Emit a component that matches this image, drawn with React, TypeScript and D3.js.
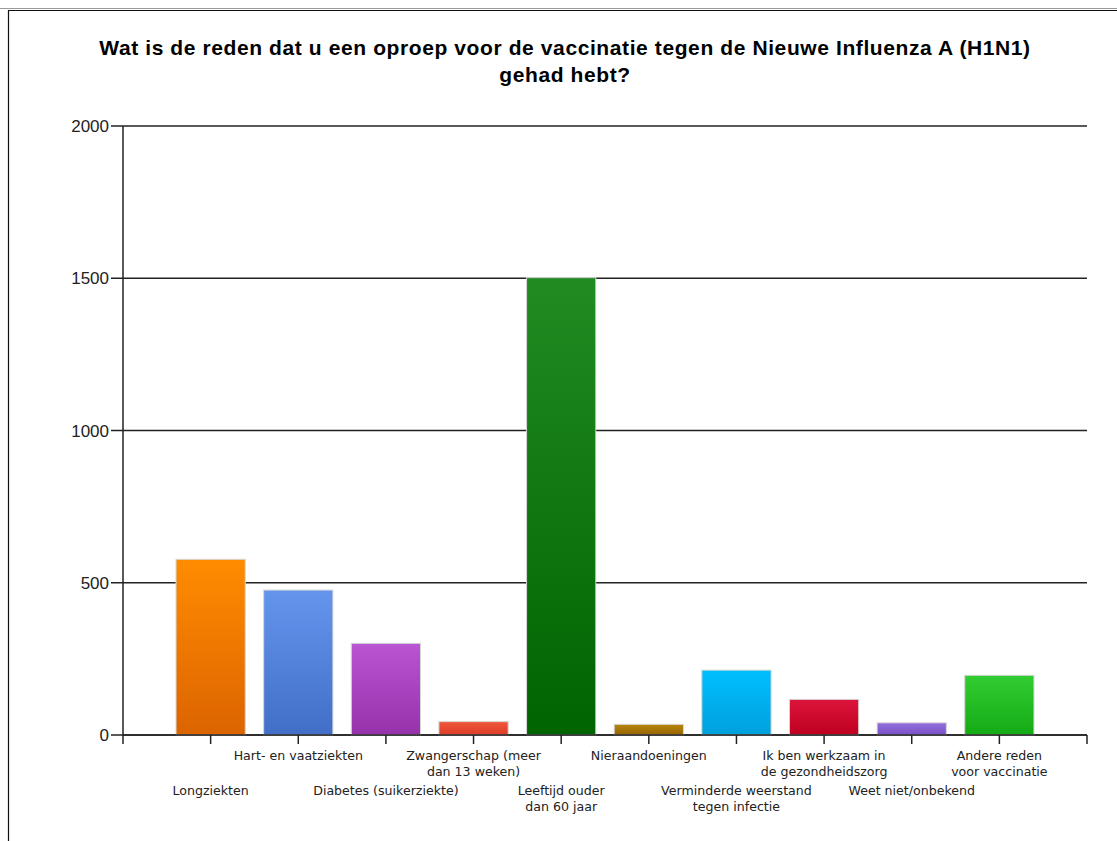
import React from "react";
import * as d3 from "d3";

const title = [
  "Wat is de reden dat u een oproep voor de vaccinatie tegen de Nieuwe Influenza A (H1N1)",
  "gehad hebt?",
];

const categories = [
  ["Longziekten"],
  ["Hart- en vaatziekten"],
  ["Diabetes (suikerziekte)"],
  ["Zwangerschap (meer", "dan 13 weken)"],
  ["Leeftijd ouder", "dan 60 jaar"],
  ["Nieraandoeningen"],
  ["Verminderde weerstand", "tegen infectie"],
  ["Ik ben werkzaam in", "de gezondheidszorg"],
  ["Weet niet/onbekend"],
  ["Andere reden", "voor vaccinatie"],
];

const values = [577, 476, 301, 44, 1502, 35, 213, 117, 40, 196];

const topColors = ["#ff8c00", "#6495ed", "#ba55d3", "#f0583c", "#228b22", "#b8860b", "#00bfff", "#dc143c", "#9370db", "#32cd32"];
const bottomColors = ["#dc6400", "#416fc8", "#9632aa", "#dc3c28", "#006400", "#966400", "#00a0dc", "#be0020", "#7850c8", "#14aa14"];

const yTicks = [0, 500, 1000, 1500, 2000];

export default function App() {
  const W = 1117;
  const H = 841;
  const left = 123;
  const right = 1087;
  const top = 126;
  const bottom = 735;

  const keys = categories.map((c) => c.join(" "));
  const x = d3.scalePoint<string>().domain(keys).range([left, right]).padding(1);
  const y = d3.scaleLinear().domain([0, 2000]).range([bottom, top]);
  const step = x.step();
  const bw = step * 0.79;

  return (
    <svg
      width={W}
      height={H}
      style={{ position: "absolute", left: 0, top: 0, background: "#fff" }}
    >
      <defs>
        {keys.map((k, i) => (
          <linearGradient key={k} id={`g${i}`} x1="0" y1="0" x2="0" y2="1">
            <stop offset="0%" stopColor={topColors[i]} />
            <stop offset="100%" stopColor={bottomColors[i]} />
          </linearGradient>
        ))}
      </defs>
      <rect x={0} y={0} width={W} height={H} fill="#fff" />
      {/* frame */}
      <line x1={0} x2={W} y1={8.5} y2={8.5} stroke="#9a9a9a" strokeWidth={1} />
      <line x1={8} x2={W} y1={10.5} y2={10.5} stroke="#111" strokeWidth={1.2} />
      <line x1={8.5} x2={8.5} y1={10} y2={H} stroke="#111" strokeWidth={1.2} />

      {/* title */}
      {title.map((t, i) => (
        <text
          key={i}
          x={565}
          y={55 + i * 27}
          textAnchor="middle"
          fontFamily="'Liberation Sans', Arial, sans-serif"
          fontWeight="bold"
          fontSize={21}
          letterSpacing={0.6}
          fill="#000"
        >
          {t}
        </text>
      ))}

      {/* gridlines + y ticks */}
      {yTicks.map((t) => (
        <g key={t}>
          <line x1={111} x2={right} y1={y(t)} y2={y(t)} stroke="#222" strokeWidth={1.5} />
          <text
            x={109}
            y={y(t) + 6}
            textAnchor="end"
            fontFamily="'Liberation Sans', Arial, sans-serif"
            fontSize={17}
            fill="#222"
          >
            {t}
          </text>
        </g>
      ))}

      {/* y axis */}
      <line x1={left} x2={left} y1={top} y2={bottom + 9} stroke="#222" strokeWidth={1.5} />
      <line x1={right} x2={right} y1={bottom} y2={bottom + 9} stroke="#222" strokeWidth={1.5} />

      {/* bars */}
      {keys.map((k, i) => {
        const cx = x(k)!;
        return (
          <rect
            key={k}
            x={cx - bw / 2}
            y={y(values[i])}
            width={bw}
            height={y(0) - y(values[i])}
            fill={`url(#g${i})`}
            stroke="#d6d6d6"
            strokeWidth={1}
          />
        );
      })}

      {/* x axis line on top */}
      <line x1={left} x2={right} y1={bottom} y2={bottom} stroke="#222" strokeWidth={1.5} />

      {/* x ticks and labels */}
      {keys.map((k, i) => {
        const cx = x(k)!;
        const row = i % 2 === 1 ? 0 : 1;
        const y0 = row === 0 ? 760 : 795;
        return (
          <g key={k}>
            <line x1={cx} x2={cx} y1={bottom} y2={bottom + 9} stroke="#222" strokeWidth={1.5} />
            {categories[i].map((ln, j) => (
              <text
                key={j}
                x={cx}
                y={y0 + j * 15.5}
                textAnchor="middle"
                fontFamily="'DejaVu Sans', sans-serif"
                fontSize={12.6}
                fill="#222"
              >
                {ln}
              </text>
            ))}
          </g>
        );
      })}
    </svg>
  );
}
